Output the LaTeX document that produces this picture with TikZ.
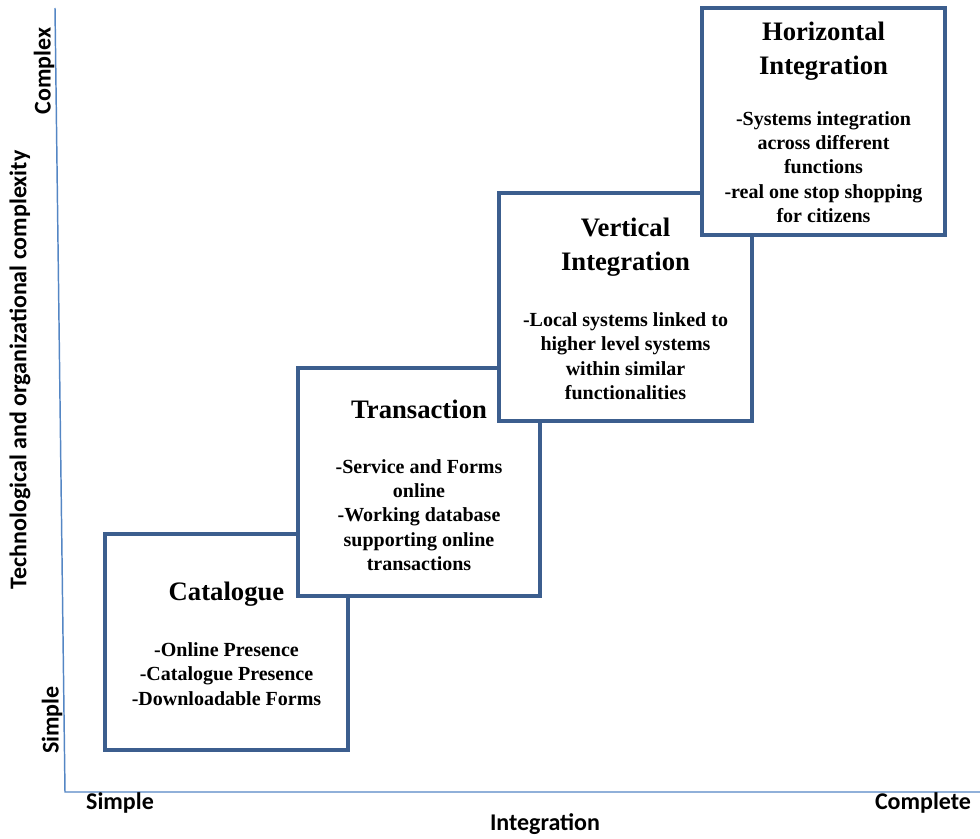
\documentclass[tikz,border=0pt]{standalone}
\usepackage{fontspec}
\setmainfont{Liberation Serif}
\newfontfamily\axefont{Carlito}
\definecolor{bleuboite}{RGB}{60,94,142}
\definecolor{bleuaxe}{RGB}{84,134,196}
\begin{document}
\begin{tikzpicture}[x=0.75pt, y=-0.75pt]
			\tikzset{boite/.style={rectangle, draw=bleuboite, line width=2.6pt, fill=white, inner sep=0pt}, titre/.style={align=center, inner sep=0pt, font=\bfseries\fontsize{20}{25.5}\selectfont}, corps/.style={align=center, inner sep=0pt, font=\bfseries\fontsize{15}{18.3}\selectfont}, axe/.style={draw=bleuaxe, line width=1.1pt}, etiquette/.style={inner sep=0pt, font=\axefont\bfseries\fontsize{18}{21}\selectfont}};

			\useasboundingbox (0,0) rectangle (980,838);

			% axes
			\coordinate (haut)    at (  55,    8);
			\coordinate (origine) at (  65,  792);
			\coordinate (droite)  at ( 980,  792);
			\draw[axe] (haut) -- (origine) -- (droite);

			\node[etiquette, rotate=90] (complexe) at (  44,   71) {Complex};
			\node[etiquette, rotate=90] (simpleY)  at (  52,  720) {Simple};
			\node[etiquette, rotate=90] (complex)  at (  20,  370) {Technological and organizational complexity};
			\node[etiquette] (simpleX)  at ( 120,  803) {Simple};
			\node[etiquette] (complet)  at ( 923,  803) {Complete};
			\node[etiquette] (integ)    at ( 545,  824) {Integration};

			% etapes
			\node[boite, minimum width=182.25pt, minimum height=162pt]    (cat) at (226.5,  642) {};
			\node[titre] (catT) at (226.5,  594) {Catalogue};
			\node[corps] (catC) at (226.5,  674) {-Online Presence\\-Catalogue Presence\\-Downloadable Forms};

			\node[boite, minimum width=181.5pt, minimum height=171pt]     (tra) at ( 419,  482) {};
			\node[titre] (traT) at ( 419,  409) {Transaction};
			\node[corps] (traC) at ( 419,  515) {-Service and Forms\\online\\-Working database\\supporting online\\transactions};

			\node[boite, minimum width=189.75pt, minimum height=171pt]    (ver) at (625.5,  307) {};
			\node[titre] (verT) at (625.5,  247) {Vertical\\Integration};
			\node[corps] (verC) at (625.5,  356) {-Local systems linked to\\higher level systems\\within similar\\functionalities};

			\node[boite, minimum width=182.25pt, minimum height=170.25pt] (hor) at (823.5, 121.5) {};
			\node[titre] (horT) at (823.5,   51) {Horizontal\\Integration};
			\node[corps] (horC) at (823.5,  167) {-Systems integration\\across different\\functions\\-real one stop shopping\\for citizens};

		\end{tikzpicture}
\end{document}
